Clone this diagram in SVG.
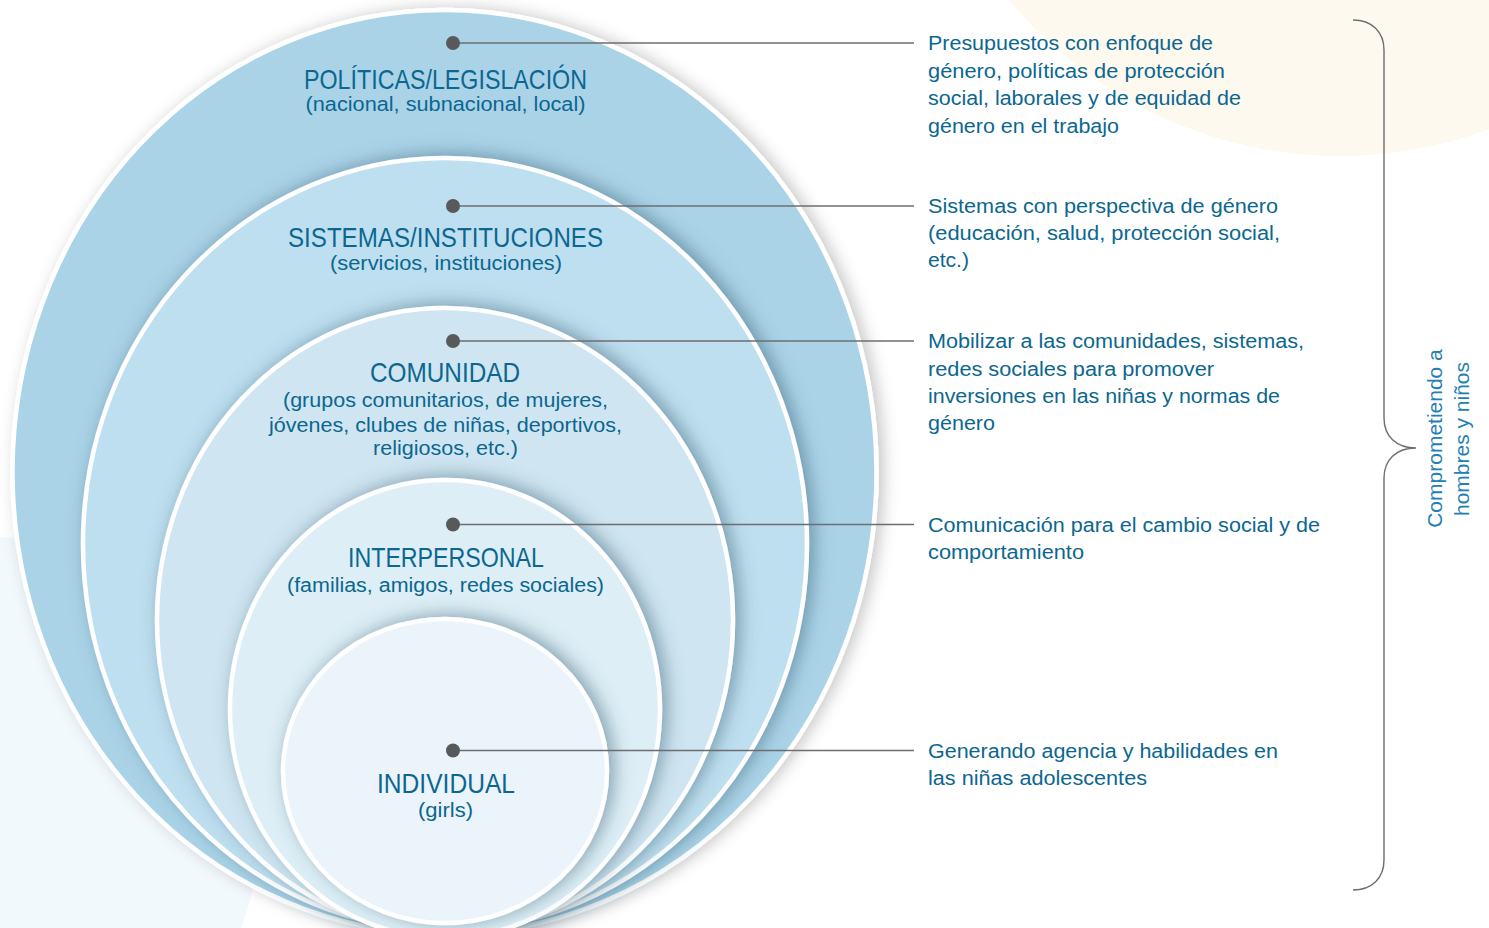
<svg xmlns="http://www.w3.org/2000/svg" width="1489" height="928" viewBox="0 0 1489 928">
  <defs>
    <style>
      .ring { stroke: #ffffff; stroke-width: 4.5; }
      .title { font-family: 'Liberation Sans', Arial, sans-serif; font-size: 28px; fill: #0b6790; text-anchor: middle; }
      .sub { font-family: 'Liberation Sans', Arial, sans-serif; font-size: 20px; fill: #0b6790; text-anchor: middle; }
      .desc { font-family: 'Liberation Sans', Arial, sans-serif; font-size: 20px; fill: #0b6790; }
      .vert { font-family: 'Liberation Sans', Arial, sans-serif; font-size: 21px; fill: #1f80b3; text-anchor: middle; }
      .lead { stroke: #6d6e71; stroke-width: 1.3; fill: none; }
      .dot { fill: #58595b; }
      .brace { stroke: #6d6e71; stroke-width: 1.4; fill: none; }
    </style>
    <filter id="shOuter" x="-10%" y="-10%" width="120%" height="120%">
      <feGaussianBlur in="SourceAlpha" stdDeviation="8"/>
      <feOffset dx="5" dy="0" result="b"/>
      <feFlood flood-color="#000000" flood-opacity="0.22"/>
      <feComposite in2="b" operator="in"/>
      <feMerge><feMergeNode/><feMergeNode in="SourceGraphic"/></feMerge>
    </filter>
    <filter id="shIn" x="-20%" y="-20%" width="140%" height="140%">
      <feGaussianBlur in="SourceAlpha" stdDeviation="9"/>
      <feOffset dx="5" dy="-2" result="b"/>
      <feFlood flood-color="#3d6478" flood-opacity="0.55"/>
      <feComposite in2="b" operator="in"/>
      <feMerge><feMergeNode/><feMergeNode in="SourceGraphic"/></feMerge>
    </filter>
  </defs>

  <g id="background">
    <rect x="0" y="0" width="1489" height="928" fill="#ffffff"/>
    <circle cx="1340" cy="-273" r="429" fill="#fdf9ef"/>
    <circle cx="-30" cy="825" r="290" fill="#f2f9fc"/>
  </g>

  <g id="node-politicas">
    <ellipse class="ring" cx="444.5" cy="472" rx="432" ry="462" fill="#aad3e8" filter="url(#shOuter)"/>
    <text class="title" x="445.5" y="89" textLength="283" lengthAdjust="spacingAndGlyphs">POLÍTICAS/LEGISLACIÓN</text>
    <text class="sub" x="445.5" y="111" textLength="280" lengthAdjust="spacingAndGlyphs">(nacional, subnacional, local)</text>
  </g>

  <g id="node-sistemas">
    <ellipse class="ring" cx="445" cy="544" rx="362" ry="386" fill="#bedfef" filter="url(#shIn)"/>
    <text class="title" x="445.5" y="247" textLength="315" lengthAdjust="spacingAndGlyphs">SISTEMAS/INSTITUCIONES</text>
    <text class="sub" x="446" y="270" textLength="232" lengthAdjust="spacingAndGlyphs">(servicios, instituciones)</text>
  </g>

  <g id="node-comunidad">
    <ellipse class="ring" cx="445" cy="620" rx="288" ry="312" fill="#cfe5f1" filter="url(#shIn)"/>
    <text class="title" x="445" y="382" textLength="150" lengthAdjust="spacingAndGlyphs">COMUNIDAD</text>
    <text class="sub" x="445.5" y="407" textLength="325" lengthAdjust="spacingAndGlyphs">(grupos comunitarios, de mujeres,</text>
    <text class="sub" x="445.5" y="431.5" textLength="353" lengthAdjust="spacingAndGlyphs">jóvenes, clubes de niñas, deportivos,</text>
    <text class="sub" x="445.5" y="455" textLength="145" lengthAdjust="spacingAndGlyphs">religiosos, etc.)</text>
  </g>

  <g id="node-interpersonal">
    <ellipse class="ring" cx="445" cy="709" rx="215" ry="229" fill="#ddeef6" filter="url(#shIn)"/>
    <text class="title" x="446" y="567" textLength="196" lengthAdjust="spacingAndGlyphs">INTERPERSONAL</text>
    <text class="sub" x="445.5" y="591.5" textLength="317" lengthAdjust="spacingAndGlyphs">(familias, amigos, redes sociales)</text>
  </g>

  <g id="node-individual">
    <ellipse class="ring" cx="445" cy="771" rx="162" ry="152" fill="#ebf4fa" filter="url(#shIn)"/>
    <text class="title" x="446" y="793" textLength="138" lengthAdjust="spacingAndGlyphs">INDIVIDUAL</text>
    <text class="sub" x="445.5" y="816.5" textLength="55" lengthAdjust="spacingAndGlyphs">(girls)</text>
  </g>

  <g id="connectors">
    <line class="lead" x1="453" y1="43" x2="914" y2="43"/>
    <line class="lead" x1="453" y1="206" x2="914" y2="206"/>
    <line class="lead" x1="453" y1="341" x2="914" y2="341"/>
    <line class="lead" x1="453" y1="524.5" x2="914" y2="524.5"/>
    <line class="lead" x1="453" y1="750.5" x2="914" y2="750.5"/>
    <circle class="dot" cx="453" cy="43" r="7"/>
    <circle class="dot" cx="453" cy="206" r="7"/>
    <circle class="dot" cx="453" cy="341" r="7"/>
    <circle class="dot" cx="453" cy="524.5" r="7"/>
    <circle class="dot" cx="453" cy="750.5" r="7"/>
  </g>

  <g id="desc-politicas">
    <text class="desc" x="928" y="50" textLength="285" lengthAdjust="spacingAndGlyphs">Presupuestos con enfoque de</text>
    <text class="desc" x="928" y="78" textLength="297" lengthAdjust="spacingAndGlyphs">género, políticas de protección</text>
    <text class="desc" x="928" y="105" textLength="313" lengthAdjust="spacingAndGlyphs">social, laborales y de equidad de</text>
    <text class="desc" x="928" y="132.5" textLength="191" lengthAdjust="spacingAndGlyphs">género en el trabajo</text>
  </g>

  <g id="desc-sistemas">
    <text class="desc" x="928" y="213" textLength="350" lengthAdjust="spacingAndGlyphs">Sistemas con perspectiva de género</text>
    <text class="desc" x="928" y="240" textLength="352" lengthAdjust="spacingAndGlyphs">(educación, salud, protección social,</text>
    <text class="desc" x="928" y="267" textLength="41" lengthAdjust="spacingAndGlyphs">etc.)</text>
  </g>

  <g id="desc-comunidad">
    <text class="desc" x="928" y="348" textLength="376" lengthAdjust="spacingAndGlyphs">Mobilizar a las comunidades, sistemas,</text>
    <text class="desc" x="928" y="376" textLength="286" lengthAdjust="spacingAndGlyphs">redes sociales para promover</text>
    <text class="desc" x="928" y="403" textLength="352" lengthAdjust="spacingAndGlyphs">inversiones en las niñas y normas de</text>
    <text class="desc" x="928" y="430" textLength="67" lengthAdjust="spacingAndGlyphs">género</text>
  </g>

  <g id="desc-interpersonal">
    <text class="desc" x="928" y="531.5" textLength="392" lengthAdjust="spacingAndGlyphs">Comunicación para el cambio social y de</text>
    <text class="desc" x="928" y="559" textLength="156" lengthAdjust="spacingAndGlyphs">comportamiento</text>
  </g>

  <g id="desc-individual">
    <text class="desc" x="928" y="758" textLength="350" lengthAdjust="spacingAndGlyphs">Generando agencia y habilidades en</text>
    <text class="desc" x="928" y="785" textLength="219" lengthAdjust="spacingAndGlyphs">las niñas adolescentes</text>
  </g>

  <g id="brace-group">
    <path class="brace" d="M1353,20 C1372,20 1384,32 1384,50 L1384,418 C1384,436 1396,448 1416,448 C1396,448 1384,460 1384,478 L1384,860 C1384,878 1372,890 1353,890"/>
    <text class="vert" transform="translate(1442,438.5) rotate(-90)">Comprometiendo a</text>
    <text class="vert" transform="translate(1469,439) rotate(-90)">hombres y niños</text>
  </g>
</svg>
